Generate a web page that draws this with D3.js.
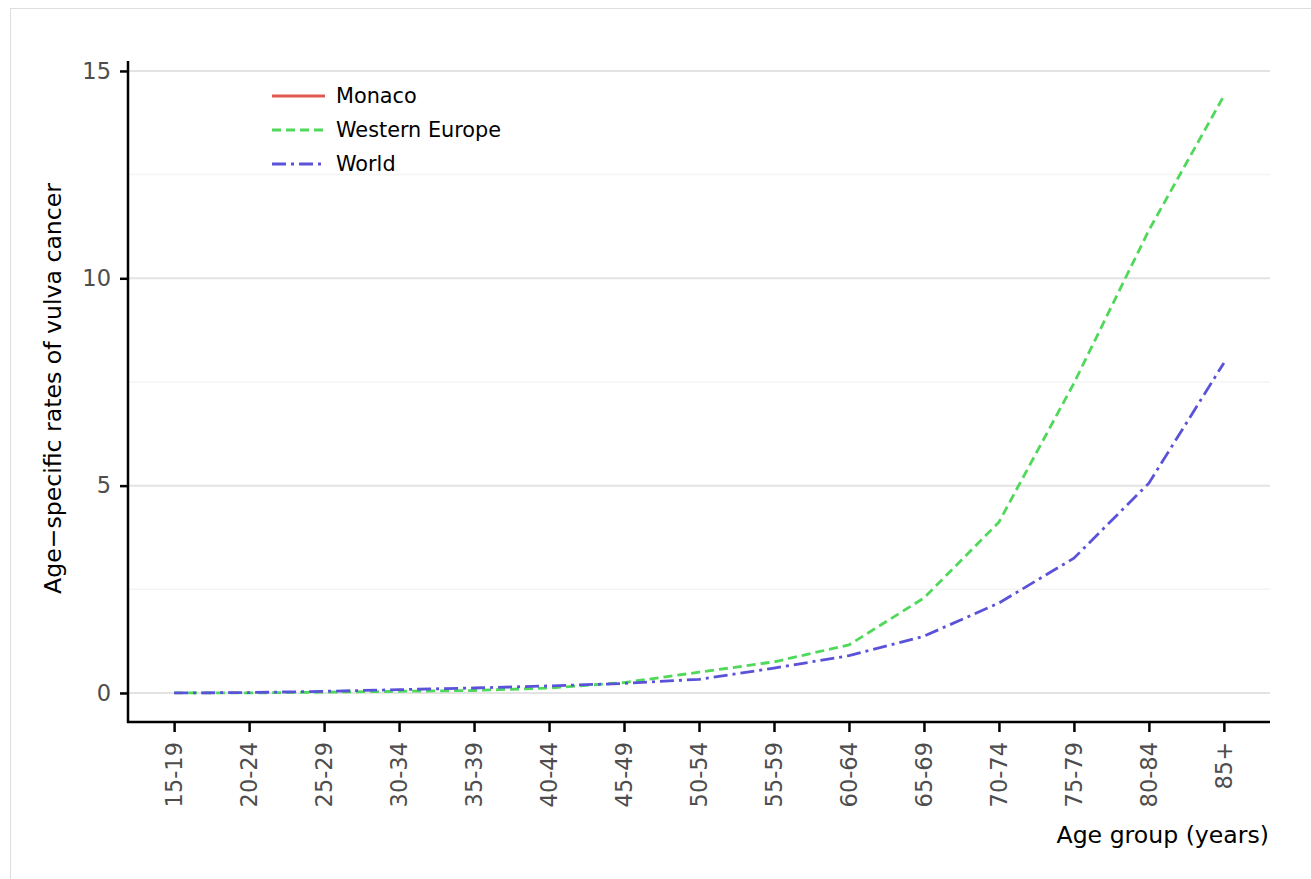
<!DOCTYPE html>
<html>
<head>
<meta charset="utf-8">
<script src="https://cdn.jsdelivr.net/npm/d3@7"></script>
<style>
  html, body { margin: 0; padding: 0; background: #fff; }
  svg { display: block; font-family: "DejaVu Sans", sans-serif; }
</style>
</head>
<body>
<svg id="chart" width="1311" height="879"></svg>
<script>
const ageGroups = ["15-19","20-24","25-29","30-34","35-39","40-44","45-49","50-54","55-59","60-64","65-69","70-74","75-79","80-84","85+"];
const monaco = [null,null,null,null,null,null,null,null,null,null,null,null,null,null,null];
const westernEurope = [0.0,0.0,0.02,0.04,0.06,0.12,0.25,0.5,0.75,1.16,2.29,4.12,7.47,11.16,14.4];
const world = [0.0,0.01,0.04,0.08,0.12,0.17,0.23,0.33,0.6,0.9,1.37,2.17,3.25,5.06,7.96];
const yTicks = [0,5,10,15];
const yMinor = [2.5,7.5,12.5];
const seriesNames = ["Monaco","Western Europe","World"];

(function(){
const svg = d3.select("#chart");
const W = 1311, H = 879;
const pLeft = 128, pRight = 1270, pTop = 61, pBottom = 722;

// outer border
svg.append("rect").attr("x",10.5).attr("y",8.5).attr("width",W+20).attr("height",H+20)
  .attr("fill","none").attr("stroke","#dedede").attr("stroke-width",1);

const x = d3.scalePoint().domain(ageGroups).range([pLeft, pRight]).padding(0.615);
const y = d3.scaleLinear().domain([-0.70, 15.24]).range([pBottom, pTop]);

// gridlines
svg.append("g").selectAll("line").data(yMinor).join("line")
  .attr("x1",pLeft).attr("x2",pRight).attr("y1",d=>y(d)).attr("y2",d=>y(d))
  .attr("stroke","#f4f4f4").attr("stroke-width",1.5);
svg.append("g").selectAll("line").data(yTicks).join("line")
  .attr("x1",pLeft).attr("x2",pRight).attr("y1",d=>y(d)).attr("y2",d=>y(d))
  .attr("stroke","#e3e3e3").attr("stroke-width",2);

// lines
const line = d3.line().defined(d=>d.v!=null).x(d=>x(d.g)).y(d=>y(d.v));
const series = [
  {name:seriesNames[0], vals:monaco, color:"#e05a52", dash:null},
  {name:seriesNames[1], vals:westernEurope, color:"#4fd85a", dash:"9,5"},
  {name:seriesNames[2], vals:world, color:"#5a52d8", dash:"14,5,3,5"}
];
series.forEach(s=>{
  const data = ageGroups.map((g,i)=>({g, v:s.vals[i]}));
  svg.append("path").datum(data).attr("d",line).attr("fill","none")
    .attr("stroke",s.color).attr("stroke-width",2.8)
    .attr("stroke-dasharray",s.dash);
});

// axes
const yAxis = d3.axisLeft(y).tickValues(yTicks).tickSize(8).tickPadding(9);
const gy = svg.append("g").attr("transform",`translate(${pLeft},0)`).call(yAxis);
gy.select(".domain").remove();
gy.append("line").attr("x1",0).attr("x2",0).attr("y1",pTop).attr("y2",pBottom+1)
  .attr("stroke","#000").attr("stroke-width",2.5);
gy.selectAll(".tick line").attr("stroke","#000").attr("stroke-width",2.5);
gy.selectAll(".tick text").attr("fill","#4d4d4d").style("font-size","22.5px")
  .style("font-family","DejaVu Sans");

const xAxis = d3.axisBottom(x).tickSize(10).tickPadding(6);
const gx = svg.append("g").attr("transform",`translate(0,${pBottom})`).call(xAxis);
gx.select(".domain").remove();
gx.append("line").attr("x1",pLeft-1).attr("x2",pRight).attr("y1",0).attr("y2",0)
  .attr("stroke","#000").attr("stroke-width",2.5);
gx.selectAll(".tick line").attr("stroke","#000").attr("stroke-width",2.5);
gx.selectAll(".tick text").attr("fill","#4d4d4d").style("font-size","22.5px")
  .style("font-family","DejaVu Sans")
  .attr("transform","rotate(-90)").attr("text-anchor","end")
  .attr("x",-20).attr("y",0).attr("dy","0.35em");

// axis titles
svg.append("text").attr("x",1269).attr("y",843).attr("text-anchor","end")
  .style("font-size","23.6px").attr("fill","#000").text("Age group (years)");
svg.append("text").attr("transform",`translate(61,${(pTop+pBottom)/2 - 3}) rotate(-90)`)
  .attr("text-anchor","middle").style("font-size","23.6px").attr("fill","#000")
  .text("Age\u2212specific rates of vulva cancer");

// legend
const lg = svg.append("g");
series.forEach((s,i)=>{
  const yy = 96 + i*34;
  lg.append("line").attr("x1",272).attr("x2",325).attr("y1",yy).attr("y2",yy)
    .attr("stroke",s.color).attr("stroke-width",2.8).attr("stroke-dasharray",s.dash);
  lg.append("text").attr("x",336).attr("y",yy).attr("dy","0.35em")
    .style("font-size","20.8px").attr("fill","#000").text(s.name);
});
})();
</script>
</body>
</html>
